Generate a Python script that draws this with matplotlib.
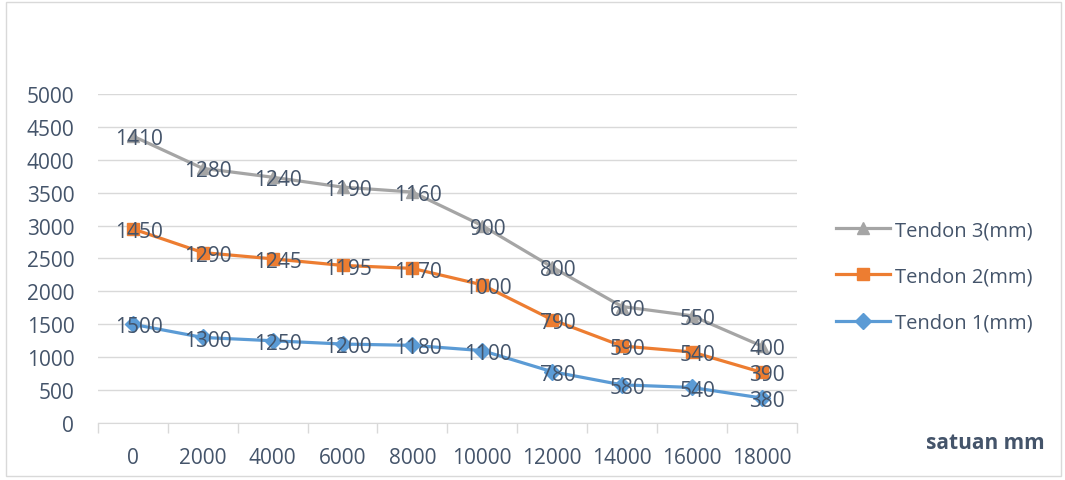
import numpy as np
import matplotlib.pyplot as plt
from matplotlib.patches import Rectangle

# Data (stacked line chart)
categories = ['0', '2000', '4000', '6000', '8000', '10000', '12000', '14000', '16000', '18000']
tendon1 = [1500, 1300, 1250, 1200, 1180, 1100, 780, 580, 540, 380]
tendon2 = [1450, 1290, 1245, 1195, 1170, 1000, 790, 590, 540, 390]
tendon3 = [1410, 1280, 1240, 1190, 1160, 900, 800, 600, 550, 400]
y_ticks = [0, 500, 1000, 1500, 2000, 2500, 3000, 3500, 4000, 4500, 5000]

txt = '#44546A'
plt.rcParams['font.family'] = ['Open Sans', 'DejaVu Sans']

fig = plt.figure(figsize=(10.65, 4.81), dpi=100)
ax = fig.add_axes([0.092, 0.1185, 0.656, 0.684])

x = np.arange(len(categories))
s1 = np.array(tendon1)
s2 = s1 + np.array(tendon2)
s3 = s2 + np.array(tendon3)

l3, = ax.plot(x, s3, color='#A5A5A5', lw=2.3, marker='^', ms=9, label='Tendon 3(mm)', zorder=3)
l2, = ax.plot(x, s2, color='#ED7D31', lw=2.3, marker='s', ms=9, label='Tendon 2(mm)', zorder=3)
l1, = ax.plot(x, s1, color='#5B9BD5', lw=2.3, marker='D', ms=8, label='Tendon 1(mm)', zorder=3)

# data labels
for ys, vals in [(s1, tendon1), (s2, tendon2), (s3, tendon3)]:
    for xi, yi, v in zip(x, ys, vals):
        ax.text(xi + 0.08, yi - 40, str(v), ha='center', va='center', fontsize=15, color=txt, zorder=4)

ax.set_xlim(-0.5, len(categories) - 0.5)
ax.set_ylim(0, 5000)
ax.set_yticks(y_ticks)
ax.set_yticklabels([str(v) for v in y_ticks])
ax.set_xticks(x)
ax.set_xticklabels(categories)
ax.set_xticks(np.arange(-0.5, len(categories)), minor=True)
ax.tick_params(axis='x', which='major', length=0, pad=17, labelsize=15, labelcolor=txt)
ax.tick_params(axis='x', which='minor', length=7, color='#D9D9D9', width=1)
ax.tick_params(axis='y', length=0, pad=17, labelsize=15, labelcolor=txt)

ax.grid(axis='y', color='#D9D9D9', lw=1)
ax.set_axisbelow(True)
for side in ['top', 'right', 'left']:
    ax.spines[side].set_visible(False)
ax.spines['bottom'].set_color('#D9D9D9')
ax.spines['bottom'].set_zorder(0)

leg = fig.legend(handles=[l3, l2, l1], loc='center left', bbox_to_anchor=(0.768, 0.423),
                 frameon=False, fontsize=14.5, labelspacing=1.3, handlelength=2.7,
                 handletextpad=0.25, labelcolor=txt)

fig.text(0.925, 0.078, 'satuan mm', ha='center', va='center', fontsize=15,
         fontweight='bold', color=txt)

# chart border
fig.patches.append(Rectangle((0.006, 0.008), 0.99, 0.985, transform=fig.transFigure,
                             fill=False, edgecolor='#D9D9D9', lw=1))

fig.savefig('out.png', dpi=100)
